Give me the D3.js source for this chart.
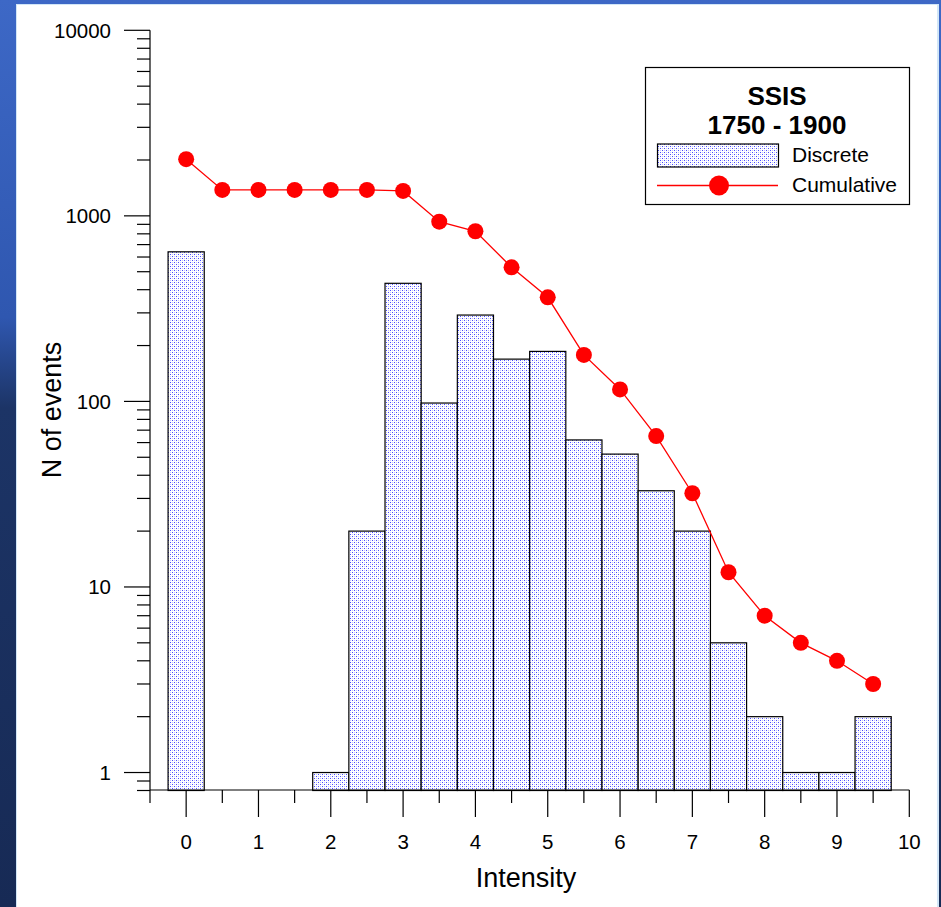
<!DOCTYPE html>
<html>
<head>
<meta charset="utf-8">
<script src="https://cdn.jsdelivr.net/npm/d3@7"></script>
<style>
  html, body { margin: 0; padding: 0; background: #ffffff; }
  svg { display: block; }
  text { font-family: "Liberation Sans", Arial, sans-serif; fill: #000; }
</style>
</head>
<body>
<svg id="chart" width="941" height="907"></svg>
<script>
// Macroseismic intensity classes (half-degree steps)
const intensities = [0, 0.5, 1, 1.5, 2, 2.5, 3, 3.5, 4, 4.5, 5, 5.5, 6, 6.5, 7, 7.5, 8, 8.5, 9, 9.5];
// Number of events in each class (0 = no bar)
const discrete = [640, 0, 0, 0, 1, 20, 433, 98, 292, 169, 186, 62, 52, 33, 20, 5, 2, 1, 1, 2];
// Number of events with intensity >= class
const cumulative = [2020, 1380, 1380, 1380, 1380, 1380, 1362, 930, 826, 528, 364, 178, 116, 65, 32, 12, 7, 5, 4, 3];

const xTicks = [0, 1, 2, 3, 4, 5, 6, 7, 8, 9, 10];
const yTicks = [1, 10, 100, 1000, 10000];
const legendTitle = ["SSIS", "1750 - 1900"];
const legendLabels = ["Discrete", "Cumulative"];
const xTitle = "Intensity";
const yTitle = "N of events";

const svg = d3.select("#chart");
const W = 941, H = 907;

// ---- backdrop: blue frame around the white sheet ----
const defs = svg.append("defs");
const frameGrad = defs.append("linearGradient").attr("id", "frameGrad")
  .attr("x1", 0).attr("y1", 0).attr("x2", 0).attr("y2", 1);
frameGrad.append("stop").attr("offset", "0%").attr("stop-color", "#3d68c6");
frameGrad.append("stop").attr("offset", "35%").attr("stop-color", "#2f57b0");
frameGrad.append("stop").attr("offset", "45%").attr("stop-color", "#1c3466");
frameGrad.append("stop").attr("offset", "100%").attr("stop-color", "#172a55");
svg.append("rect").attr("x", 0).attr("y", 0).attr("width", W).attr("height", H)
  .attr("fill", "url(#frameGrad)");
svg.append("rect").attr("x", 16).attr("y", 4).attr("width", 923).attr("height", H)
  .attr("fill", "#d2e6f7");
svg.append("rect").attr("x", 17).attr("y", 5).attr("width", 920).attr("height", H)
  .attr("fill", "#ffffff");

// ---- dotted fill used by the bars ----
const pat = defs.append("pattern").attr("id", "dots")
  .attr("patternUnits", "userSpaceOnUse").attr("width", 4).attr("height", 4);
pat.append("rect").attr("width", 4).attr("height", 4).attr("fill", "#ffffff");
pat.append("rect").attr("x", 0).attr("y", 0).attr("width", 1).attr("height", 1)
  .attr("fill", "#4a4aff").attr("shape-rendering", "crispEdges");
pat.append("rect").attr("x", 2).attr("y", 2).attr("width", 1).attr("height", 1)
  .attr("fill", "#4a4aff").attr("shape-rendering", "crispEdges");
pat.append("rect").attr("x", 2).attr("y", 0).attr("width", 1).attr("height", 1)
  .attr("fill", "#c4c8ff").attr("shape-rendering", "crispEdges");
pat.append("rect").attr("x", 0).attr("y", 2).attr("width", 1).attr("height", 1)
  .attr("fill", "#c4c8ff").attr("shape-rendering", "crispEdges");

// ---- scales ----
const x = d3.scaleLinear().domain([-0.5, 10]).range([150, 909.3]);
const y = d3.scaleLog().domain([0.8, 10000]).range([790.5, 30.3]);
const barW = x(0.5) - x(0);

// ---- bars ----
const bars = intensities.map((v, i) => ({ v, n: discrete[i] })).filter(d => d.n > 0);
svg.append("g").selectAll("rect").data(bars).join("rect")
  .attr("x", d => x(d.v) - barW / 2)
  .attr("y", d => y(d.n))
  .attr("width", barW)
  .attr("height", d => y(0.8) - y(d.n))
  .attr("fill", "url(#dots)")
  .attr("stroke", "#000")
  .attr("stroke-width", 1.2);

// ---- cumulative curve ----
const pts = intensities.map((v, i) => ({ v, n: cumulative[i] }));
svg.append("path").datum(pts)
  .attr("fill", "none").attr("stroke", "#ff0000").attr("stroke-width", 1.3)
  .attr("d", d3.line().x(d => x(d.v)).y(d => y(d.n)));
svg.append("g").selectAll("circle").data(pts).join("circle")
  .attr("cx", d => x(d.v)).attr("cy", d => y(d.n)).attr("r", 8)
  .attr("fill", "#ff0000");

// ---- x axis ----
const xAxisG = svg.append("g");
xAxisG.append("line").attr("x1", x(-0.5)).attr("x2", x(10)).attr("y1", 790).attr("y2", 790)
  .attr("stroke", "#000").attr("stroke-width", 1.2);
const xMinor = d3.range(-0.5, 10, 1);
xAxisG.selectAll("line.minor").data(xMinor).join("line").attr("class", "minor")
  .attr("x1", d => x(d)).attr("x2", d => x(d)).attr("y1", 790).attr("y2", 803)
  .attr("stroke", "#000").attr("stroke-width", 1.2);
xAxisG.selectAll("line.major").data(xTicks).join("line").attr("class", "major")
  .attr("x1", d => x(d)).attr("x2", d => x(d)).attr("y1", 790).attr("y2", 817)
  .attr("stroke", "#000").attr("stroke-width", 1.2);
xAxisG.selectAll("text").data(xTicks).join("text")
  .attr("x", d => x(d)).attr("y", 849).attr("text-anchor", "middle")
  .attr("font-size", 20.5).text(d => d);
svg.append("text").attr("x", 526).attr("y", 887).attr("text-anchor", "middle")
  .attr("font-size", 27).text(xTitle);

// ---- y axis (log) ----
const yAxisG = svg.append("g");
yAxisG.append("line").attr("x1", 150).attr("x2", 150).attr("y1", y(10000)).attr("y2", 790)
  .attr("stroke", "#000").attr("stroke-width", 1.2);
const yMinor = [0.8, 0.9];
for (let e = 0; e < 4; e++) for (let m = 2; m <= 9; m++) yMinor.push(m * Math.pow(10, e));
yAxisG.selectAll("line.minor").data(yMinor).join("line").attr("class", "minor")
  .attr("x1", 137).attr("x2", 150).attr("y1", d => y(d)).attr("y2", d => y(d))
  .attr("stroke", "#000").attr("stroke-width", 1.2);
yAxisG.selectAll("line.major").data(yTicks).join("line").attr("class", "major")
  .attr("x1", 124).attr("x2", 150).attr("y1", d => y(d)).attr("y2", d => y(d))
  .attr("stroke", "#000").attr("stroke-width", 1.2);
yAxisG.selectAll("text").data(yTicks).join("text")
  .attr("x", 111).attr("y", d => y(d)).attr("dy", "0.36em").attr("text-anchor", "end")
  .attr("font-size", 20.5).text(d => d);
svg.append("text").attr("transform", "translate(61,410) rotate(-90)")
  .attr("text-anchor", "middle").attr("font-size", 27).text(yTitle);

// ---- legend ----
const lg = svg.append("g");
lg.append("rect").attr("x", 645.5).attr("y", 67.5).attr("width", 264).attr("height", 137)
  .attr("fill", "#fff").attr("stroke", "#000").attr("stroke-width", 1.2);
lg.selectAll("text.title").data(legendTitle).join("text").attr("class", "title")
  .attr("x", 777).attr("y", (d, i) => 105 + i * 29).attr("text-anchor", "middle")
  .attr("font-size", 26).attr("font-weight", "bold").text(d => d);
lg.append("rect").attr("x", 657.5).attr("y", 144).attr("width", 121).attr("height", 23)
  .attr("fill", "url(#dots)").attr("stroke", "#000").attr("stroke-width", 1.2);
lg.append("line").attr("x1", 657).attr("x2", 778).attr("y1", 185.5).attr("y2", 185.5)
  .attr("stroke", "#ff0000").attr("stroke-width", 1.3);
lg.append("circle").attr("cx", 719).attr("cy", 185.5).attr("r", 10).attr("fill", "#ff0000");
lg.selectAll("text.item").data(legendLabels).join("text").attr("class", "item")
  .attr("x", 792).attr("y", (d, i) => 162 + i * 30)
  .attr("font-size", 21).text(d => d);
</script>
</body>
</html>
